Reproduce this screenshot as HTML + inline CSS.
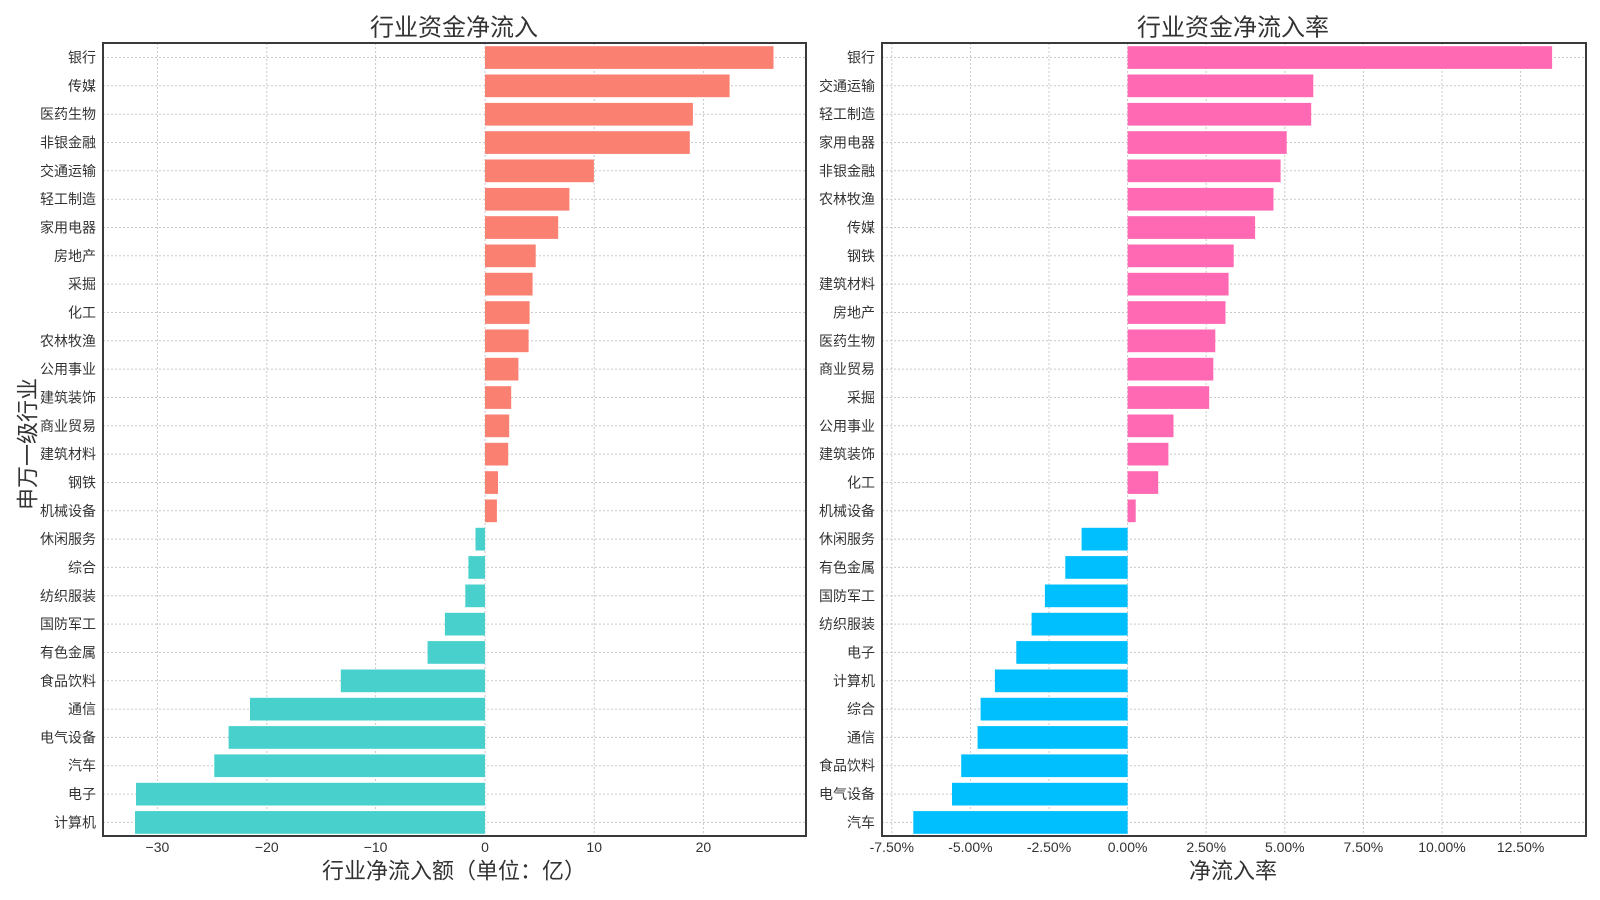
<!DOCTYPE html>
<html><head><meta charset="utf-8"><style>
html,body{margin:0;padding:0;background:#fff;}
svg{display:block;font-family:"Liberation Sans","Noto Sans CJK SC",sans-serif;}
.g line{stroke:#c8c8c8;stroke-width:1;stroke-dasharray:2,2;}
.yl{font-size:14px;fill:#333;text-anchor:end;dominant-baseline:central;}
.xl{font-size:14px;fill:#333;text-anchor:middle;dominant-baseline:central;}
.t{font-size:24px;fill:#333;text-anchor:middle;dominant-baseline:central;}
.a{font-size:22px;fill:#333;text-anchor:middle;dominant-baseline:central;}
</style></head><body>
<svg width="1600" height="900" viewBox="0 0 1600 900">
<!-- LEFT grid -->
<g class="g">
<line x1="157.4" y1="43" x2="157.4" y2="836"/><line x1="266.8" y1="43" x2="266.8" y2="836"/><line x1="375.6" y1="43" x2="375.6" y2="836"/><line x1="485" y1="43" x2="485" y2="836"/><line x1="594.2" y1="43" x2="594.2" y2="836"/><line x1="703.4" y1="43" x2="703.4" y2="836"/>
<line x1="103" y1="57.5" x2="806" y2="57.5"/><line x1="103" y1="85.8" x2="806" y2="85.8"/><line x1="103" y1="114.2" x2="806" y2="114.2"/><line x1="103" y1="142.5" x2="806" y2="142.5"/><line x1="103" y1="170.8" x2="806" y2="170.8"/><line x1="103" y1="199.2" x2="806" y2="199.2"/><line x1="103" y1="227.5" x2="806" y2="227.5"/><line x1="103" y1="255.8" x2="806" y2="255.8"/><line x1="103" y1="284.1" x2="806" y2="284.1"/><line x1="103" y1="312.5" x2="806" y2="312.5"/><line x1="103" y1="340.8" x2="806" y2="340.8"/><line x1="103" y1="369.1" x2="806" y2="369.1"/><line x1="103" y1="397.5" x2="806" y2="397.5"/><line x1="103" y1="425.8" x2="806" y2="425.8"/><line x1="103" y1="454.1" x2="806" y2="454.1"/><line x1="103" y1="482.5" x2="806" y2="482.5"/><line x1="103" y1="510.8" x2="806" y2="510.8"/><line x1="103" y1="539.1" x2="806" y2="539.1"/><line x1="103" y1="567.4" x2="806" y2="567.4"/><line x1="103" y1="595.8" x2="806" y2="595.8"/><line x1="103" y1="624.1" x2="806" y2="624.1"/><line x1="103" y1="652.4" x2="806" y2="652.4"/><line x1="103" y1="680.8" x2="806" y2="680.8"/><line x1="103" y1="709.1" x2="806" y2="709.1"/><line x1="103" y1="737.4" x2="806" y2="737.4"/><line x1="103" y1="765.7" x2="806" y2="765.7"/><line x1="103" y1="794.1" x2="806" y2="794.1"/><line x1="103" y1="822.4" x2="806" y2="822.4"/>
</g>
<!-- RIGHT grid -->
<g class="g">
<line x1="891.8" y1="43" x2="891.8" y2="836"/><line x1="970.4" y1="43" x2="970.4" y2="836"/><line x1="1049" y1="43" x2="1049" y2="836"/><line x1="1127.6" y1="43" x2="1127.6" y2="836"/><line x1="1206.2" y1="43" x2="1206.2" y2="836"/><line x1="1284.8" y1="43" x2="1284.8" y2="836"/><line x1="1363.4" y1="43" x2="1363.4" y2="836"/><line x1="1442" y1="43" x2="1442" y2="836"/><line x1="1520.6" y1="43" x2="1520.6" y2="836"/>
<line x1="882" y1="57.5" x2="1586" y2="57.5"/><line x1="882" y1="85.8" x2="1586" y2="85.8"/><line x1="882" y1="114.2" x2="1586" y2="114.2"/><line x1="882" y1="142.5" x2="1586" y2="142.5"/><line x1="882" y1="170.8" x2="1586" y2="170.8"/><line x1="882" y1="199.2" x2="1586" y2="199.2"/><line x1="882" y1="227.5" x2="1586" y2="227.5"/><line x1="882" y1="255.8" x2="1586" y2="255.8"/><line x1="882" y1="284.1" x2="1586" y2="284.1"/><line x1="882" y1="312.5" x2="1586" y2="312.5"/><line x1="882" y1="340.8" x2="1586" y2="340.8"/><line x1="882" y1="369.1" x2="1586" y2="369.1"/><line x1="882" y1="397.5" x2="1586" y2="397.5"/><line x1="882" y1="425.8" x2="1586" y2="425.8"/><line x1="882" y1="454.1" x2="1586" y2="454.1"/><line x1="882" y1="482.5" x2="1586" y2="482.5"/><line x1="882" y1="510.8" x2="1586" y2="510.8"/><line x1="882" y1="539.1" x2="1586" y2="539.1"/><line x1="882" y1="567.4" x2="1586" y2="567.4"/><line x1="882" y1="595.8" x2="1586" y2="595.8"/><line x1="882" y1="624.1" x2="1586" y2="624.1"/><line x1="882" y1="652.4" x2="1586" y2="652.4"/><line x1="882" y1="680.8" x2="1586" y2="680.8"/><line x1="882" y1="709.1" x2="1586" y2="709.1"/><line x1="882" y1="737.4" x2="1586" y2="737.4"/><line x1="882" y1="765.7" x2="1586" y2="765.7"/><line x1="882" y1="794.1" x2="1586" y2="794.1"/><line x1="882" y1="822.4" x2="1586" y2="822.4"/>
</g>
<!-- LEFT bars -->
<g fill="#FA8072">
<rect x="485" y="46.2" width="288.5" height="22.7"/><rect x="485" y="74.5" width="244.6" height="22.7"/><rect x="485" y="102.9" width="207.9" height="22.7"/><rect x="485" y="131.2" width="204.8" height="22.7"/><rect x="485" y="159.5" width="108.9" height="22.7"/><rect x="485" y="187.9" width="84.4" height="22.7"/><rect x="485" y="216.2" width="73.2" height="22.7"/><rect x="485" y="244.5" width="50.7" height="22.7"/><rect x="485" y="272.8" width="47.6" height="22.7"/><rect x="485" y="301.2" width="44.6" height="22.7"/><rect x="485" y="329.5" width="43.6" height="22.7"/><rect x="485" y="357.8" width="33.4" height="22.7"/><rect x="485" y="386.2" width="26.2" height="22.7"/><rect x="485" y="414.5" width="24.2" height="22.7"/><rect x="485" y="442.8" width="23.2" height="22.7"/><rect x="485" y="471.2" width="13" height="22.7"/><rect x="485" y="499.5" width="11.9" height="22.7"/>
</g>
<g fill="#48D1CC">
<rect x="475.5" y="527.8" width="9.5" height="22.7"/><rect x="468.4" y="556.1" width="16.6" height="22.7"/><rect x="465.3" y="584.5" width="19.7" height="22.7"/><rect x="444.9" y="612.8" width="40.1" height="22.7"/><rect x="427.6" y="641.1" width="57.4" height="22.7"/><rect x="340.8" y="669.5" width="144.2" height="22.7"/><rect x="250" y="697.8" width="235" height="22.7"/><rect x="228.6" y="726.1" width="256.4" height="22.7"/><rect x="214.3" y="754.4" width="270.7" height="22.7"/><rect x="136" y="782.8" width="349" height="22.7"/><rect x="135" y="811.1" width="350" height="22.7"/>
</g>
<!-- RIGHT bars -->
<g fill="#FF69B4">
<rect x="1127.6" y="46.2" width="424.5" height="22.7"/><rect x="1127.6" y="74.5" width="185.7" height="22.7"/><rect x="1127.6" y="102.9" width="183.6" height="22.7"/><rect x="1127.6" y="131.2" width="159.1" height="22.7"/><rect x="1127.6" y="159.5" width="153" height="22.7"/><rect x="1127.6" y="187.9" width="145.9" height="22.7"/><rect x="1127.6" y="216.2" width="127.5" height="22.7"/><rect x="1127.6" y="244.5" width="106.1" height="22.7"/><rect x="1127.6" y="272.8" width="101" height="22.7"/><rect x="1127.6" y="301.2" width="97.9" height="22.7"/><rect x="1127.6" y="329.5" width="87.7" height="22.7"/><rect x="1127.6" y="357.8" width="85.7" height="22.7"/><rect x="1127.6" y="386.2" width="81.6" height="22.7"/><rect x="1127.6" y="414.5" width="45.9" height="22.7"/><rect x="1127.6" y="442.8" width="40.8" height="22.7"/><rect x="1127.6" y="471.2" width="30.6" height="22.7"/><rect x="1127.6" y="499.5" width="8.1" height="22.7"/>
</g>
<g fill="#00BFFF">
<rect x="1081.6" y="527.8" width="46" height="22.7"/><rect x="1065.3" y="556.1" width="62.3" height="22.7"/><rect x="1044.9" y="584.5" width="82.7" height="22.7"/><rect x="1031.6" y="612.8" width="96" height="22.7"/><rect x="1016.3" y="641.1" width="111.3" height="22.7"/><rect x="994.9" y="669.5" width="132.7" height="22.7"/><rect x="980.6" y="697.8" width="147" height="22.7"/><rect x="977.6" y="726.1" width="150" height="22.7"/><rect x="961.2" y="754.4" width="166.4" height="22.7"/><rect x="952" y="782.8" width="175.6" height="22.7"/><rect x="913.3" y="811.1" width="214.3" height="22.7"/>
</g>
<!-- frames -->
<rect x="103" y="43" width="703" height="793" fill="none" stroke="#3a3a3a" stroke-width="2"/>
<rect x="882" y="43" width="704" height="793" fill="none" stroke="#3a3a3a" stroke-width="2"/>
<!-- LEFT y labels -->
<g class="yl">
<text x="96" y="57.5">银行</text><text x="96" y="85.8">传媒</text><text x="96" y="114.2">医药生物</text><text x="96" y="142.5">非银金融</text><text x="96" y="170.8">交通运输</text><text x="96" y="199.2">轻工制造</text><text x="96" y="227.5">家用电器</text><text x="96" y="255.8">房地产</text><text x="96" y="284.1">采掘</text><text x="96" y="312.5">化工</text><text x="96" y="340.8">农林牧渔</text><text x="96" y="369.1">公用事业</text><text x="96" y="397.5">建筑装饰</text><text x="96" y="425.8">商业贸易</text><text x="96" y="454.1">建筑材料</text><text x="96" y="482.5">钢铁</text><text x="96" y="510.8">机械设备</text><text x="96" y="539.1">休闲服务</text><text x="96" y="567.4">综合</text><text x="96" y="595.8">纺织服装</text><text x="96" y="624.1">国防军工</text><text x="96" y="652.4">有色金属</text><text x="96" y="680.8">食品饮料</text><text x="96" y="709.1">通信</text><text x="96" y="737.4">电气设备</text><text x="96" y="765.7">汽车</text><text x="96" y="794.1">电子</text><text x="96" y="822.4">计算机</text>
</g>
<!-- RIGHT y labels -->
<g class="yl">
<text x="875" y="57.5">银行</text><text x="875" y="85.8">交通运输</text><text x="875" y="114.2">轻工制造</text><text x="875" y="142.5">家用电器</text><text x="875" y="170.8">非银金融</text><text x="875" y="199.2">农林牧渔</text><text x="875" y="227.5">传媒</text><text x="875" y="255.8">钢铁</text><text x="875" y="284.1">建筑材料</text><text x="875" y="312.5">房地产</text><text x="875" y="340.8">医药生物</text><text x="875" y="369.1">商业贸易</text><text x="875" y="397.5">采掘</text><text x="875" y="425.8">公用事业</text><text x="875" y="454.1">建筑装饰</text><text x="875" y="482.5">化工</text><text x="875" y="510.8">机械设备</text><text x="875" y="539.1">休闲服务</text><text x="875" y="567.4">有色金属</text><text x="875" y="595.8">国防军工</text><text x="875" y="624.1">纺织服装</text><text x="875" y="652.4">电子</text><text x="875" y="680.8">计算机</text><text x="875" y="709.1">综合</text><text x="875" y="737.4">通信</text><text x="875" y="765.7">食品饮料</text><text x="875" y="794.1">电气设备</text><text x="875" y="822.4">汽车</text>
</g>
<!-- x tick labels -->
<g class="xl">
<text x="157.4" y="847">−30</text><text x="266.8" y="847">−20</text><text x="375.6" y="847">−10</text><text x="485" y="847">0</text><text x="594.2" y="847">10</text><text x="703.4" y="847">20</text>
<text x="891.8" y="847">-7.50%</text><text x="970.4" y="847">-5.00%</text><text x="1049" y="847">-2.50%</text><text x="1127.6" y="847">0.00%</text><text x="1206.2" y="847">2.50%</text><text x="1284.8" y="847">5.00%</text><text x="1363.4" y="847">7.50%</text><text x="1442" y="847">10.00%</text><text x="1520.6" y="847">12.50%</text>
</g>
<!-- titles -->
<text class="t" x="454" y="28">行业资金净流入</text>
<text class="t" x="1233" y="28">行业资金净流入率</text>
<text class="a" x="454" y="871">行业净流入额（单位：亿）</text>
<text class="a" x="1233" y="871">净流入率</text>
<text class="a" transform="translate(28,444) rotate(-90)" x="0" y="0">申万一级行业</text>
</svg>
</body></html>
